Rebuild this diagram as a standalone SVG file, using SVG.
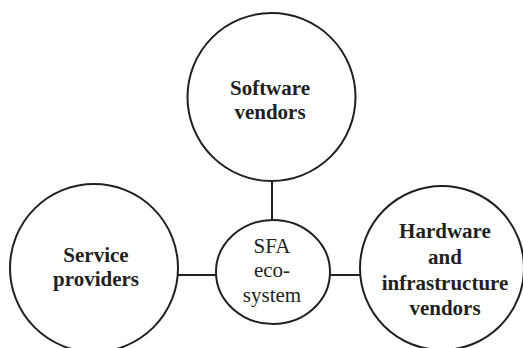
<svg xmlns="http://www.w3.org/2000/svg" width="523" height="348" viewBox="0 0 523 348">
  <style>
    .node { fill: #fff; stroke: #231f20; stroke-width: 2; }
    .link { stroke: #231f20; stroke-width: 2; fill: none; }
    .bold { font-family: "Liberation Serif", "Times New Roman", serif; font-size: 21px; font-weight: bold; fill: #231f20; text-anchor: middle; }
    .reg { font-family: "Liberation Serif", "Times New Roman", serif; font-size: 21px; fill: #231f20; text-anchor: middle; }
  </style>
  <rect width="523" height="348" fill="#fff"/>
  <g id="connectors">
    <line class="link" x1="272" y1="181" x2="272" y2="220"/>
    <line class="link" x1="178" y1="275" x2="216" y2="275"/>
    <line class="link" x1="330" y1="275" x2="361" y2="275"/>
  </g>
  <g id="software-vendors">
    <circle class="node" cx="271.5" cy="97" r="84"/>
    <text class="bold" x="270" y="95">Software</text>
    <text class="bold" x="270" y="119">vendors</text>
  </g>
  <g id="service-providers">
    <circle class="node" cx="94" cy="268" r="84"/>
    <text class="bold" x="96" y="262">Service</text>
    <text class="bold" x="96" y="286">providers</text>
  </g>
  <g id="sfa-ecosystem">
    <ellipse class="node" cx="273" cy="272" rx="57" ry="52"/>
    <text class="reg" x="272" y="253">SFA</text>
    <text class="reg" x="272" y="277">eco-</text>
    <text class="reg" x="272" y="302">system</text>
  </g>
  <g id="hardware-vendors">
    <circle class="node" cx="442" cy="268" r="82"/>
    <text class="bold" x="445" y="238">Hardware</text>
    <text class="bold" x="445" y="264">and</text>
    <text class="bold" x="445" y="290">infrastructure</text>
    <text class="bold" x="445" y="315">vendors</text>
  </g>
</svg>
